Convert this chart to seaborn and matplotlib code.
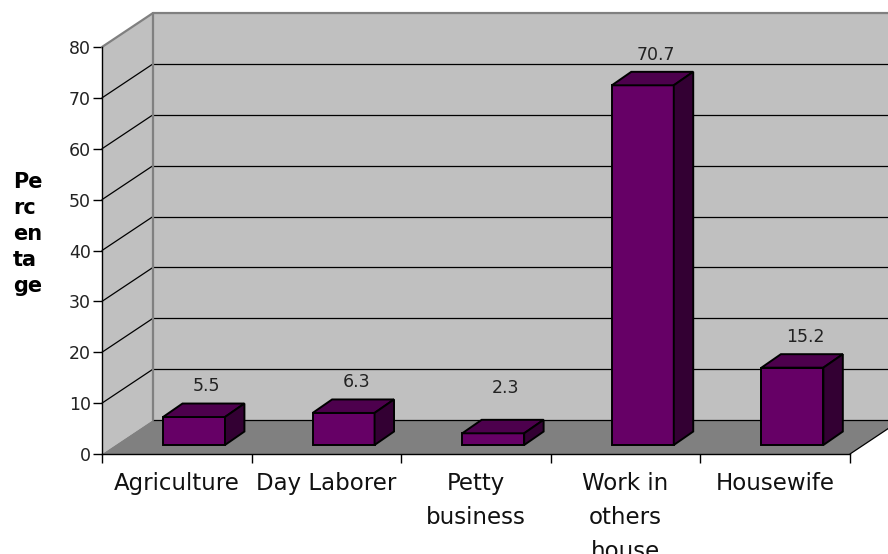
import matplotlib
matplotlib.use("Agg")
import matplotlib.pyplot as plt
from matplotlib.patches import Polygon
import seaborn as sns
import pandas as pd

# ---- data ----
categories = ["Agriculture", "Day Laborer", "Petty\nbusiness", "Work in\nothers\nhouse", "Housewife"]
percentages = [5.5, 6.3, 2.3, 70.7, 15.2]
y_ticks = [0, 10, 20, 30, 40, 50, 60, 70, 80]
y_label = "Pe\nrc\nen\nta\nge"

# ---- style ----
sns.set_theme(style="white")
plt.rcParams["font.family"] = ["DejaVu Sans"]

FRONT = "#660066"
TOP = "#4d004d"
SIDE = "#330033"
WALL = "#c0c0c0"
FLOOR = "#808080"
BORDER = "#808080"

# depth offsets (data units)
DX, DY = 0.341, 6.68          # wall depth
BSHIFT_X, BSHIFT_Y = 0.115, 1.77   # bar front face shift from category front
BDX, BDY = 0.130, 2.65        # bar depth
BAR_W = 0.414

fig = plt.figure(figsize=(8.88, 5.54), dpi=100)
ax = fig.add_axes([102 / 888, 100 / 554, 748 / 888, 407 / 554])

df = pd.DataFrame({"cat": categories, "pct": percentages})
sns.barplot(data=df, x="cat", y="pct", order=categories, width=BAR_W,
            color=FRONT, saturation=1, edgecolor="black", linewidth=1.4,
            errorbar=None, ax=ax, zorder=3)
bars = list(ax.patches)

ax.set_xlim(-0.5, 4.5)
ax.set_ylim(0, 80)
ax.set_xlabel("")
ax.set_ylabel("")

# walls and floor (drawn outside the axes box, so clip_on=False)
x0, x1 = -0.5, 4.5
side_wall = Polygon([(x0, 0), (x0 + DX, DY), (x0 + DX, 80 + DY), (x0, 80)],
                    closed=True, facecolor=WALL, edgecolor="none", zorder=0.5, clip_on=False)
back_wall = Polygon([(x0 + DX, DY), (x1 + DX, DY), (x1 + DX, 80 + DY), (x0 + DX, 80 + DY)],
                    closed=True, facecolor=WALL, edgecolor="none", zorder=0.5, clip_on=False)
floor = Polygon([(x0, 0), (x1, 0), (x1 + DX, DY), (x0 + DX, DY)],
                closed=True, facecolor=FLOOR, edgecolor="none", zorder=0.6, clip_on=False)
for p in (side_wall, back_wall, floor):
    ax.add_patch(p)

# gridlines
for v in y_ticks[:-1]:
    ax.plot([x0 + DX, x1 + DX], [v + DY, v + DY], color="black", lw=0.9, zorder=0.8, clip_on=False)
    if v > 0:
        ax.plot([x0, x0 + DX], [v, v + DY], color="black", lw=0.9, zorder=0.8, clip_on=False)
# floor right edge
ax.plot([x1, x1 + DX], [0, DY], color="black", lw=0.9, zorder=0.8, clip_on=False)
# wall borders (gray)
ax.plot([x0, x0 + DX, x1 + DX], [80, 80 + DY, 80 + DY], color=BORDER, lw=1.6, zorder=0.9, clip_on=False)
ax.plot([x0 + DX, x0 + DX], [DY, 80 + DY], color=BORDER, lw=1.6, zorder=0.9, clip_on=False)

# 3D bars built on the seaborn bars
for i, (bar, v) in enumerate(zip(bars, percentages)):
    bar.set_x(bar.get_x() + BSHIFT_X)
    bar.set_y(BSHIFT_Y)
    bx0 = bar.get_x()
    bx1 = bx0 + bar.get_width()
    by0 = bar.get_y()
    by1 = by0 + bar.get_height()
    top = Polygon([(bx0, by1), (bx1, by1), (bx1 + BDX, by1 + BDY), (bx0 + BDX, by1 + BDY)],
                  closed=True, facecolor=TOP, edgecolor="black", lw=1.4, zorder=3, joinstyle="miter")
    side = Polygon([(bx1, by0), (bx1 + BDX, by0 + BDY), (bx1 + BDX, by1 + BDY), (bx1, by1)],
                   closed=True, facecolor=SIDE, edgecolor="black", lw=1.4, zorder=3, joinstyle="miter")
    ax.add_patch(top)
    ax.add_patch(side)
    ax.text(i + 0.2, max(v + 7.8, 13.0), f"{v}", ha="center", va="center",
            fontsize=12.5, color="#222222", zorder=5)

# spines & ticks
for s in ("top", "right"):
    ax.spines[s].set_visible(False)
for s in ("left", "bottom"):
    ax.spines[s].set_color("black")
    ax.spines[s].set_linewidth(1.0)
    ax.spines[s].set_zorder(4)

ax.set_yticks(y_ticks)
ax.set_yticklabels([str(t) for t in y_ticks])
ax.tick_params(axis="y", direction="out", length=6.5, width=1.0, color="black",
               labelsize=12.5, labelcolor="#222222", pad=1.5, left=True)
ax.set_xticks(range(len(categories)))
ax.set_xticklabels(categories)
ax.set_xticks([i - 0.5 for i in range(len(categories) + 1)], minor=True)
ax.tick_params(axis="x", which="major", length=0, labelsize=16.5, labelcolor="#111111", pad=13)
ax.tick_params(axis="x", which="minor", direction="out", length=6.5, width=1.0, color="black", bottom=True)
for lab in ax.get_xticklabels():
    lab.set_linespacing(1.62)
    lab.set_va("top")

fig.text(13 / 888, 1 - 234 / 554, y_label, ha="left", va="center",
         fontsize=15, fontweight="bold", color="black", linespacing=1.37)

fig.savefig("out.png", dpi=100)
